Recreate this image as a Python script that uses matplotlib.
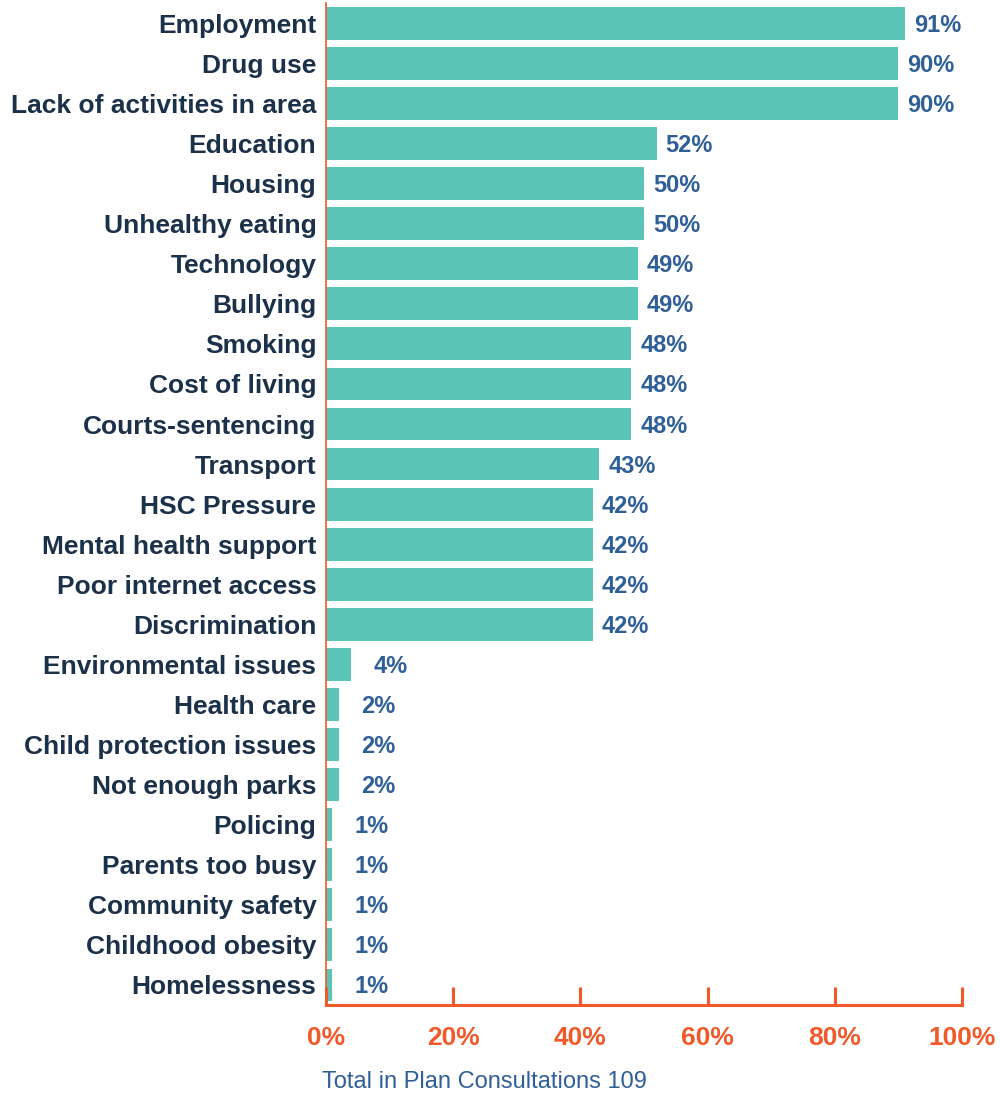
import matplotlib.pyplot as plt
from matplotlib.transforms import offset_copy

categories = ['Employment', 'Drug use', 'Lack of activities in area', 'Education',
              'Housing', 'Unhealthy eating', 'Technology', 'Bullying', 'Smoking',
              'Cost of living', 'Courts-sentencing', 'Transport', 'HSC Pressure',
              'Mental health support', 'Poor internet access', 'Discrimination',
              'Environmental issues', 'Health care', 'Child protection issues',
              'Not enough parks', 'Policing', 'Parents too busy', 'Community safety',
              'Childhood obesity', 'Homelessness']
values = [91, 90, 90, 52, 50, 50, 49, 49, 48, 48, 48, 43, 42, 42, 42, 42,
          4, 2, 2, 2, 1, 1, 1, 1, 1]
xticks = [0, 20, 40, 60, 80, 100]
caption = 'Total in Plan Consultations 109'

teal = '#5BC4B8'
navy = '#1B3049'
blue = '#2F5F97'
orange = '#F05A2A'

plt.rcParams['font.family'] = ['Liberation Sans', 'DejaVu Sans']

fig = plt.figure(figsize=(10, 10.95), dpi=100)
ax = fig.add_axes([0.326, 0.0822, 0.636, 0.9148])

y = list(range(len(categories)))
ax.barh(y, values, height=0.82, color=teal)
for yi, v in zip(y, values):
    # small bars have their labels pushed further out
    dx = 9 if v >= 10 else 22
    tr = offset_copy(ax.transData, fig=fig, x=dx, y=-2, units='dots')
    ax.text(v, yi, f'{v}%', va='center', ha='left', fontsize=17,
            fontweight='bold', color=blue, transform=tr)

ax.set_ylim(len(categories) - 0.5, -0.5)
ax.set_xlim(0, 100)
ax.set_yticks(y)
ax.set_yticklabels(categories, fontsize=19, fontweight='bold', color=navy)
ax.tick_params(axis='y', length=0, pad=7)
ax.set_xticks(xticks)
ax.set_xticklabels([f'{t}%' for t in xticks], fontsize=19, fontweight='bold',
                   color=orange)
ax.tick_params(axis='x', direction='in', length=13, width=2.2, color=orange, pad=15)

for s in ['top', 'right']:
    ax.spines[s].set_visible(False)
ax.spines['left'].set_color(orange)
ax.spines['left'].set_linewidth(1.2)
ax.spines['bottom'].set_color(orange)
ax.spines['bottom'].set_linewidth(2.2)

fig.text(0.484, 0.012, caption, ha='center', va='center', fontsize=17, color=blue)

fig.savefig('out.png', dpi=100)
